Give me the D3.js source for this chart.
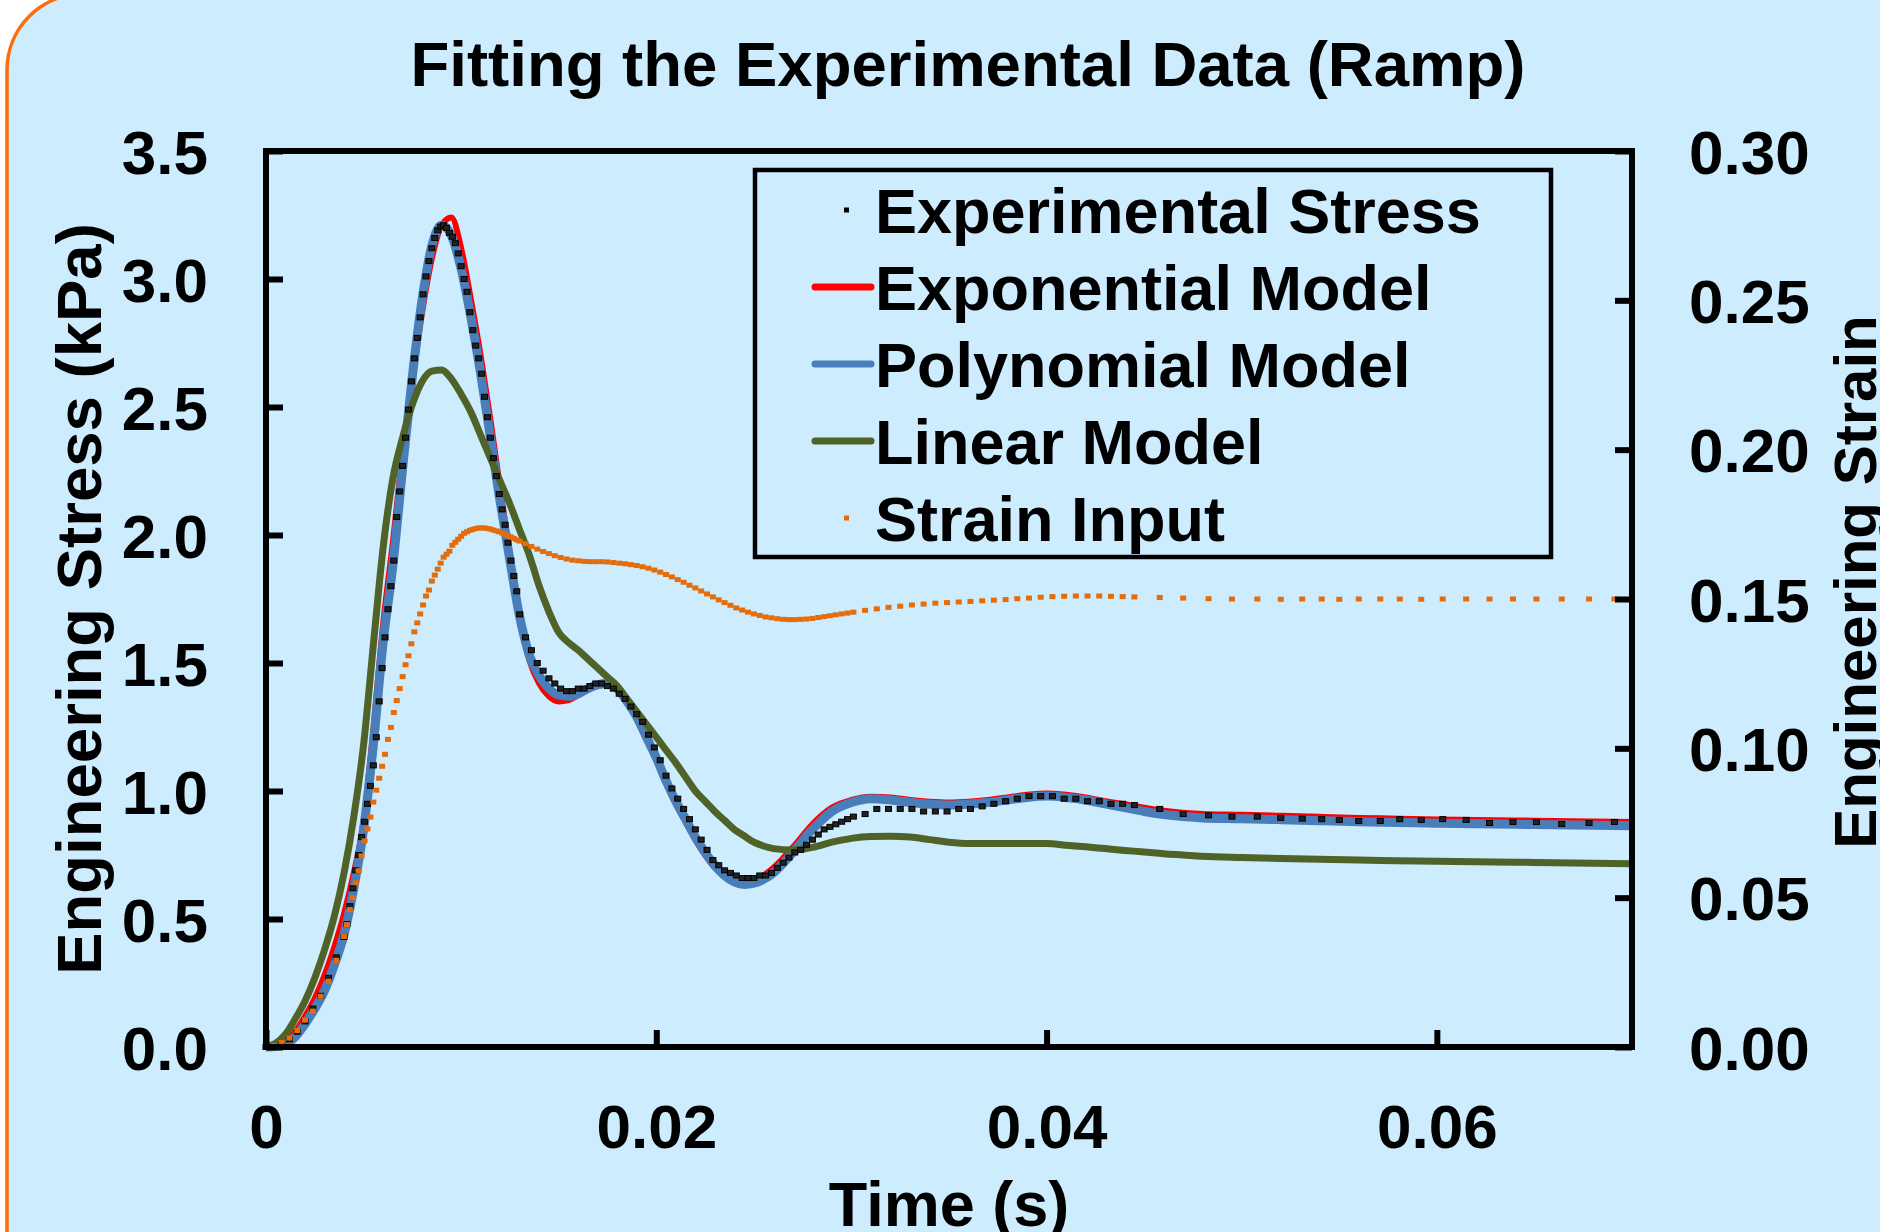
<!DOCTYPE html>
<html>
<head>
<meta charset="utf-8">
<script src="https://cdn.jsdelivr.net/npm/d3@7"></script>
<style>
  body { margin: 0; background: #fff; }
  svg text { font-family: "Liberation Sans", Arial, sans-serif; font-weight: bold; fill: #000; }
</style>
</head>
<body>
<script>
// experimental record: time (s), stress (kPa) and strain input on the same time base
let expTime = [
  0, 0.0004, 0.0008, 0.0012, 0.0016, 0.002, 0.0024, 0.0028, 0.0032, 0.0036, 0.004,
  0.00415, 0.0043, 0.00445, 0.0046, 0.00475, 0.0049, 0.00505, 0.0052, 0.00535, 0.0055,
  0.00565, 0.0058, 0.00595, 0.0061, 0.00625, 0.0064, 0.00655, 0.0067, 0.00685, 0.007,
  0.00715, 0.0073, 0.00745, 0.0076, 0.00775, 0.0079, 0.00805, 0.0082, 0.00835, 0.0085,
  0.00865, 0.0088, 0.00895, 0.0091, 0.00925, 0.0094, 0.00955, 0.0097, 0.00985, 0.01,
  0.01015, 0.0103, 0.01045, 0.0106, 0.01075, 0.0109, 0.01105, 0.0112, 0.01135, 0.0115,
  0.01165, 0.0118, 0.01195, 0.0121, 0.01225, 0.0124, 0.01255, 0.0127, 0.01285, 0.013,
  0.0133, 0.0136, 0.0139, 0.0142, 0.0145, 0.0148, 0.0151, 0.0154, 0.0157, 0.016,
  0.0163, 0.0166, 0.0169, 0.0172, 0.0175, 0.0178, 0.0181, 0.0184, 0.0187, 0.019,
  0.0193, 0.0196, 0.0199, 0.0202, 0.0205, 0.0208, 0.0211, 0.0214, 0.0217, 0.022,
  0.0223, 0.0226, 0.0229, 0.0232, 0.0235, 0.0238, 0.0241, 0.0244, 0.0247, 0.025,
  0.0253, 0.0256, 0.0259, 0.0262, 0.0265, 0.0268, 0.0271, 0.0274, 0.0277, 0.028,
  0.0283, 0.0286, 0.0289, 0.0292, 0.0295, 0.0298, 0.0301,
  0.0307, 0.0313, 0.0319, 0.0325, 0.0331, 0.0337, 0.0343, 0.0349, 0.0355, 0.0361,
  0.0367, 0.0373, 0.0379, 0.0385, 0.0391, 0.0397, 0.0403, 0.0409, 0.0415, 0.0421,
  0.0427, 0.0433, 0.0439, 0.0445,
  0.0458, 0.047, 0.0483, 0.0495, 0.0508, 0.052, 0.0531, 0.0541, 0.055, 0.056,
  0.0571, 0.0581, 0.0592, 0.0603, 0.0615, 0.0627, 0.0639, 0.0651, 0.0664, 0.0678, 0.0691
]
let expStress = [
  0, 0.002, 0.01, 0.03, 0.06, 0.10, 0.15, 0.20, 0.27, 0.35, 0.43,
  0.48, 0.55, 0.62, 0.69, 0.75, 0.82, 0.88, 0.95, 1.02, 1.10,
  1.21, 1.35, 1.48, 1.60, 1.71, 1.80, 1.90, 2.07, 2.17, 2.27,
  2.38, 2.49, 2.60, 2.69, 2.77, 2.85, 2.94, 3.01, 3.07, 3.12,
  3.16, 3.19, 3.205, 3.21, 3.20, 3.18, 3.165, 3.14, 3.10, 3.05,
  3.00, 2.95, 2.87, 2.80, 2.74, 2.69, 2.63, 2.54, 2.46, 2.38,
  2.30, 2.23, 2.16, 2.10, 2.04, 1.97, 1.90, 1.84, 1.78, 1.69,
  1.60, 1.55, 1.50, 1.47, 1.44, 1.42, 1.40, 1.39, 1.39, 1.40,
  1.40, 1.41, 1.42, 1.42, 1.41, 1.40, 1.38, 1.36, 1.33, 1.30,
  1.27, 1.22, 1.17, 1.12, 1.06, 1.01, 0.97, 0.93, 0.89, 0.85,
  0.81, 0.77, 0.73, 0.71, 0.69, 0.68, 0.67, 0.66, 0.66, 0.66,
  0.67, 0.67, 0.68, 0.70, 0.72, 0.74, 0.76, 0.77, 0.79, 0.81,
  0.83, 0.85, 0.86, 0.87, 0.88, 0.89, 0.90,
  0.91, 0.93, 0.93, 0.93, 0.93, 0.92, 0.92, 0.92, 0.93, 0.93,
  0.94, 0.95, 0.96, 0.97, 0.98, 0.98, 0.98, 0.97, 0.97, 0.96,
  0.96, 0.95, 0.95, 0.945,
  0.93, 0.91, 0.905, 0.90, 0.90, 0.895, 0.892, 0.89, 0.887, 0.883,
  0.883, 0.89, 0.887, 0.89, 0.887, 0.875, 0.879, 0.879, 0.871, 0.875, 0.879
]
let strainInput = [
  0, 0.0005, 0.0015, 0.003, 0.0055, 0.009, 0.012, 0.017, 0.022, 0.029, 0.037,
  0.041, 0.046, 0.050, 0.055, 0.059, 0.064, 0.069, 0.073, 0.077, 0.082,
  0.086, 0.090, 0.094, 0.098, 0.103, 0.107, 0.112, 0.116, 0.120, 0.124,
  0.128, 0.131, 0.135, 0.139, 0.142, 0.145, 0.148, 0.151, 0.153, 0.156,
  0.158, 0.160, 0.162, 0.164, 0.165, 0.166, 0.168, 0.169, 0.170, 0.171,
  0.172, 0.1725, 0.173, 0.1733, 0.1736, 0.1738, 0.1738, 0.1738, 0.1736, 0.1734,
  0.1731, 0.1728, 0.1725, 0.1721, 0.1717, 0.1712, 0.1708, 0.1703, 0.1698, 0.1694,
  0.1685, 0.1676, 0.1667, 0.1659, 0.1652, 0.1645, 0.1639, 0.1634, 0.1630, 0.1628,
  0.1626, 0.1625, 0.1625, 0.1625, 0.1624, 0.1622, 0.1620, 0.1618, 0.1615, 0.1612,
  0.1608, 0.1603, 0.1597, 0.1590, 0.1582, 0.1574, 0.1565, 0.1556, 0.1546, 0.1537,
  0.1527, 0.1517, 0.1507, 0.1497, 0.1488, 0.1479, 0.1470, 0.1463, 0.1456, 0.1450,
  0.1445, 0.1440, 0.1437, 0.1434, 0.1432, 0.1431, 0.1431, 0.1432, 0.1433, 0.1435,
  0.1438, 0.1441, 0.1444, 0.1447, 0.1450, 0.1453, 0.1456,
  0.1462, 0.1467, 0.1472, 0.1476, 0.1480, 0.1483, 0.1486, 0.1488, 0.1490, 0.1492,
  0.1494, 0.1496, 0.1498, 0.1501, 0.1503, 0.1506, 0.1508, 0.1509, 0.1510, 0.1510,
  0.1510, 0.1509, 0.1508, 0.1507,
  0.1505, 0.1503, 0.1501, 0.1500, 0.1500, 0.1499, 0.1500, 0.1500, 0.1499, 0.1500,
  0.1500, 0.1500, 0.1499, 0.1500, 0.1500, 0.1500, 0.1500, 0.1500, 0.1500, 0.1500, 0.1500
]

// fitted models (kPa)
let modelTime = [
  0, 0.0005, 0.001, 0.0015, 0.002, 0.0025, 0.003, 0.0035, 0.004, 0.0045,
  0.005, 0.0055, 0.006, 0.0065, 0.007, 0.0075, 0.008, 0.0085, 0.009, 0.0095,
  0.010, 0.0105, 0.011, 0.0115, 0.012, 0.0125, 0.013, 0.0135, 0.014, 0.0145,
  0.015, 0.0155, 0.016, 0.0165, 0.017, 0.0175, 0.018, 0.0185, 0.019, 0.0195,
  0.020, 0.0205, 0.021, 0.0215, 0.022, 0.0225, 0.023, 0.0235, 0.024, 0.0245,
  0.025, 0.0255, 0.026, 0.027, 0.028, 0.029, 0.030, 0.031, 0.032, 0.033,
  0.034, 0.035, 0.036, 0.037, 0.038, 0.039, 0.040, 0.041, 0.042, 0.043,
  0.044, 0.045, 0.046, 0.047, 0.048, 0.050, 0.052, 0.054, 0.056, 0.058,
  0.060, 0.062, 0.064, 0.066, 0.068, 0.070
]
let exponentialModel = [
  0, 0.005, 0.02, 0.06, 0.12, 0.19, 0.28, 0.39, 0.52, 0.68,
  0.88, 1.24, 1.65, 1.97, 2.32, 2.60, 2.87, 3.08, 3.21, 3.24,
  3.12, 2.92, 2.70, 2.45, 2.18, 1.92, 1.68, 1.51, 1.42, 1.37,
  1.35, 1.355, 1.375, 1.395, 1.41, 1.415, 1.395, 1.35, 1.28, 1.20,
  1.12, 1.03, 0.95, 0.88, 0.81, 0.75, 0.70, 0.67, 0.65, 0.645,
  0.65, 0.67, 0.70, 0.78, 0.87, 0.935, 0.965, 0.978, 0.975, 0.965,
  0.958, 0.955, 0.958, 0.965, 0.975, 0.985, 0.99, 0.985, 0.975, 0.96,
  0.948, 0.935, 0.923, 0.915, 0.91, 0.907, 0.903, 0.899, 0.895, 0.892,
  0.889, 0.887, 0.885, 0.883, 0.881, 0.879
]
let polynomialModel = [
  0, 0.003, 0.01, 0.04, 0.09, 0.15, 0.22, 0.32, 0.44, 0.62,
  0.85, 1.18, 1.58, 1.88, 2.26, 2.62, 2.92, 3.13, 3.21, 3.17,
  3.04, 2.85, 2.63, 2.38, 2.13, 1.90, 1.68, 1.53, 1.45, 1.40,
  1.375, 1.37, 1.38, 1.40, 1.415, 1.42, 1.40, 1.35, 1.29, 1.21,
  1.13, 1.04, 0.96, 0.89, 0.82, 0.76, 0.71, 0.67, 0.645, 0.635,
  0.64, 0.655, 0.68, 0.76, 0.85, 0.92, 0.955, 0.97, 0.965, 0.955,
  0.948, 0.945, 0.948, 0.955, 0.965, 0.975, 0.98, 0.975, 0.965, 0.95,
  0.935, 0.92, 0.908, 0.90, 0.895, 0.892, 0.888, 0.884, 0.880, 0.877,
  0.874, 0.872, 0.870, 0.868, 0.866, 0.864
]
let linearModel = [
  0, 0.015, 0.05, 0.11, 0.18, 0.27, 0.38, 0.51, 0.68, 0.90,
  1.18, 1.57, 1.95, 2.22, 2.38, 2.51, 2.60, 2.64, 2.645, 2.61,
  2.55, 2.48, 2.39, 2.30, 2.21, 2.12, 2.02, 1.92, 1.80, 1.70,
  1.62, 1.58, 1.55, 1.515, 1.48, 1.445, 1.41, 1.36, 1.31, 1.26,
  1.21, 1.16, 1.11, 1.055, 1.00, 0.96, 0.92, 0.885, 0.85, 0.825,
  0.80, 0.785, 0.775, 0.77, 0.78, 0.80, 0.815, 0.822, 0.823, 0.82,
  0.81, 0.80, 0.795, 0.795, 0.795, 0.795, 0.795, 0.788, 0.782, 0.775,
  0.768, 0.762, 0.755, 0.75, 0.745, 0.74, 0.736, 0.733, 0.73, 0.728,
  0.726, 0.724, 0.722, 0.72, 0.718, 0.716
]

let stressTicks = [0, 0.5, 1.0, 1.5, 2.0, 2.5, 3.0, 3.5]
let strainTicks = [0, 0.05, 0.10, 0.15, 0.20, 0.25, 0.30]
let timeTicks = [0, 0.02, 0.04, 0.06]
let seriesNames = ['Experimental Stress', 'Exponential Model', 'Polynomial Model', 'Linear Model', 'Strain Input']
let seriesColors = ['#000000', '#ff0000', '#4a7ebb', '#4f6228', '#e46c0a']

var W = 1880, H = 1232
var margin = { top: 151, right: 248, bottom: 185, left: 266 },
    width = W - margin.left - margin.right,
    height = H - margin.top - margin.bottom

var svg = d3.select('body').append('svg')
    .attr('width', W)
    .attr('height', H)

svg.append('rect').attr('width', W).attr('height', H).attr('fill', '#fff')
svg.append('rect')
    .attr('x', 7).attr('y', -6)
    .attr('width', 2000).attr('height', 1400)
    .attr('rx', 76).attr('ry', 76)
    .attr('fill', '#cdecfe')
    .attr('stroke', '#ff6c0a')
    .attr('stroke-width', 3.5)

var g = svg.append('g')
    .attr('transform', 'translate(' + margin.left + ',' + margin.top + ')')

var x = d3.scaleLinear().domain([0, 0.07]).range([0, width])
var y = d3.scaleLinear().domain([0, 3.5]).range([height, 0])
var y2 = d3.scaleLinear().domain([0, 0.30]).range([height, 0])

var expData = expTime.map((t, i) => ({ t: t, s: expStress[i], e: strainInput[i] }))
var models = [exponentialModel, polynomialModel, linearModel]
var modelWidths = [6, 9, 7]

var line = d3.line()
    .x(d => x(d.t))
    .y(d => y(d.v))
    .curve(d3.curveMonotoneX)

models.forEach(function (m, k) {
    g.append('path')
        .datum(modelTime.map((t, i) => ({ t: t, v: m[i] })))
        .attr('fill', 'none')
        .attr('stroke', seriesColors[k + 1])
        .attr('stroke-width', modelWidths[k])
        .attr('stroke-linejoin', 'round')
        .attr('d', line)
})

g.selectAll('.expMark')
    .data(expData)
    .enter()
    .append('rect')
    .attr('class', 'expMark')
    .attr('x', d => x(d.t) - 3)
    .attr('y', d => y(d.s) - 2.5)
    .attr('width', 6)
    .attr('height', 5)
    .attr('fill', '#222')
    .attr('stroke', '#000')
    .attr('stroke-width', 1)

g.selectAll('.strainMark')
    .data(expData)
    .enter()
    .append('rect')
    .attr('class', 'strainMark')
    .attr('x', d => x(d.t) - 3)
    .attr('y', d => y2(d.e) - 2.5)
    .attr('width', 6)
    .attr('height', 5)
    .attr('fill', seriesColors[4])

// axes
var fontSize = 62
var yAxis = d3.axisLeft(y).tickValues(stressTicks).tickFormat(d3.format('.1f'))
    .tickSize(-17).tickPadding(58)
var y2Axis = d3.axisRight(y2).tickValues(strainTicks).tickFormat(d3.format('.2f'))
    .tickSize(-17).tickPadding(57)
var xAxis = d3.axisBottom(x).tickValues(timeTicks).tickFormat(d => d === 0 ? '0' : d3.format('.2f')(d))
    .tickSize(-17).tickPadding(57)

var gy = g.append('g').call(yAxis)
var gy2 = g.append('g').attr('transform', 'translate(' + width + ',0)').call(y2Axis)
var gx = g.append('g').attr('transform', 'translate(0,' + height + ')').call(xAxis)

;[gy, gy2, gx].forEach(function (a) {
    a.select('.domain').remove()
    a.selectAll('line').attr('stroke', '#000').attr('stroke-width', 6)
    a.selectAll('text').style('font-size', fontSize + 'px').attr('fill', '#000')
})
gy.selectAll('text').attr('dy', '0.36em')
gy2.selectAll('text').attr('dy', '0.36em')

g.append('rect')
    .attr('width', width)
    .attr('height', height)
    .attr('fill', 'none')
    .attr('stroke', '#000')
    .attr('stroke-width', 6)

// legend
var legend = svg.append('g').attr('transform', 'translate(755,170)')
legend.append('rect')
    .attr('width', 796)
    .attr('height', 387)
    .attr('fill', 'none')
    .attr('stroke', '#000')
    .attr('stroke-width', 4.5)

seriesNames.forEach(function (name, i) {
    var ly = 40 + i * 77
    if (i === 0 || i === 4) {
        legend.append('rect')
            .attr('x', 89).attr('y', ly - 2.5)
            .attr('width', 5).attr('height', 5)
            .attr('fill', seriesColors[i])
    } else {
        legend.append('line')
            .attr('x1', 60).attr('x2', 116)
            .attr('y1', ly).attr('y2', ly)
            .attr('stroke', seriesColors[i])
            .attr('stroke-width', 7)
            .attr('stroke-linecap', 'round')
    }
    legend.append('text')
        .attr('x', 120)
        .attr('y', ly)
        .attr('dy', '0.36em')
        .style('font-size', '63px')
        .text(name)
})

// titles
svg.append('text')
    .attr('x', 968).attr('y', 86)
    .attr('text-anchor', 'middle')
    .style('font-size', '63.5px')
    .text('Fitting the Experimental Data (Ramp)')

svg.append('text')
    .attr('x', margin.left + width / 2).attr('y', 1226)
    .attr('text-anchor', 'middle')
    .style('font-size', '63px')
    .text('Time (s)')

svg.append('text')
    .attr('transform', 'translate(101,' + (margin.top + height / 2) + ') rotate(-90)')
    .attr('text-anchor', 'middle')
    .style('font-size', '63.5px')
    .text('Engineering Stress (kPa)')

svg.append('text')
    .attr('transform', 'translate(1876,582) rotate(-90)')
    .attr('text-anchor', 'middle')
    .style('font-size', '60px')
    .text('Engineering Strain')
</script>
</body>
</html>
